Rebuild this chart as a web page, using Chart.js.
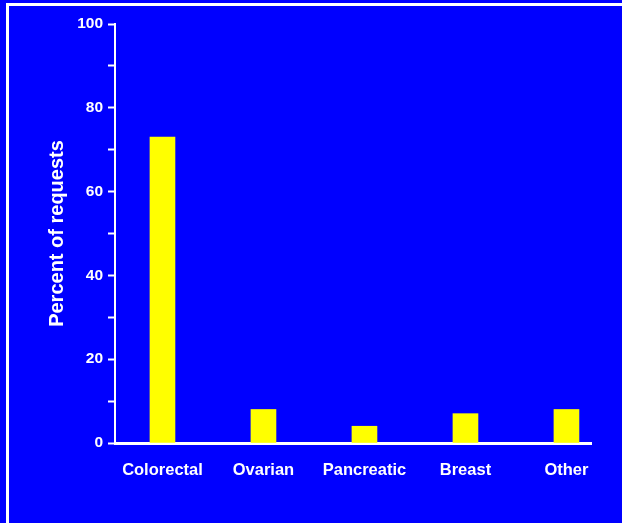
<!DOCTYPE html>
<html>
<head>
<meta charset="utf-8">
<script src="https://cdn.jsdelivr.net/npm/chart.js@4/dist/chart.umd.min.js"></script>
<style>
  html, body { margin: 0; padding: 0; background: #0000ff; }
  #frame {
    position: absolute; left: 6px; top: 3px; right: 0; bottom: 0;
    border-left: 3px solid #fff; border-top: 3px solid #fff;
  }
  #wrap { position: absolute; left: 0; top: 0; width: 622px; height: 523px; }
</style>
</head>
<body>
<div id="frame"></div>
<div id="wrap"><canvas id="chart" width="622" height="523"></canvas></div>
<script>
const categories = ['Colorectal', 'Ovarian', 'Pancreatic', 'Breast', 'Other'];
const percentOfRequests = [73, 8, 4, 7, 8];
const yTicks = [0, 20, 40, 60, 80, 100];

const font = 'Liberation Sans, Arial, Helvetica, sans-serif';

const ctx = document.getElementById('chart').getContext('2d');
new Chart(ctx, {
  type: 'bar',
  data: {
    datasets: [{
      data: categories.map((c, i) => ({ x: i + 1, y: percentOfRequests[i] })),
      backgroundColor: '#ffff00',
      borderWidth: 0,
      barThickness: 25,
    }]
  },
  options: {
    responsive: false,
    animation: false,
    layout: { padding: { left: 0, right: 31, top: 24, bottom: 0 } },
    plugins: { legend: { display: false }, tooltip: { enabled: false } },
    scales: {
      x: {
        type: 'linear',
        offset: false,
        min: 0.53,
        max: 5.243,
        afterBuildTicks: (scale) => { scale.ticks = categories.map((c, i) => ({ value: i + 1 })); },
        afterFit: (scale) => { scale.height = 80; },
        grid: { display: true, offset: false, drawOnChartArea: false, tickLength: 2, tickColor: '#c8c8ff', tickWidth: 1 },
        border: { display: true, color: '#ffffff', width: 3 },
        ticks: {
          color: '#ffffff',
          font: { family: font, size: 16.5, weight: 'bold' },
          padding: 16,
          maxRotation: 0,
          autoSkip: false,
          callback: (v) => categories[v - 1],
        },
      },
      y: {
        min: 0,
        max: 100,
        afterFit: (scale) => { scale.width = 115; },
        grid: { display: true, drawOnChartArea: false, tickLength: 7, tickColor: '#ffffff', tickWidth: 2 },
        border: { display: true, color: '#ffffff', width: 2 },
        ticks: {
          stepSize: 10,
          color: '#ffffff',
          font: { family: font, size: 15.5, weight: 'bold' },
          padding: 5,
          callback: (v) => (yTicks.includes(v) ? v : ''),
        },
        title: {
          display: true,
          text: 'Percent of requests',
          color: '#ffffff',
          font: { family: font, size: 20, weight: 'bold', lineHeight: 1 },
          padding: { top: 47, bottom: 0 },
        },
      },
    },
  },
});
</script>
</body>
</html>
